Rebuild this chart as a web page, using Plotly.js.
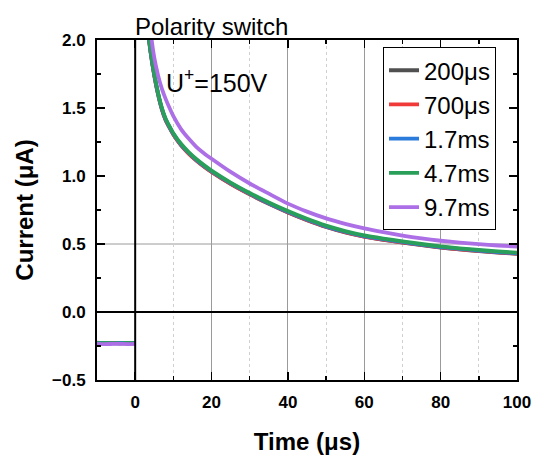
<!DOCTYPE html>
<html>
<head>
<meta charset="utf-8">
<script src="https://cdn.plot.ly/plotly-3.0.1.min.js"></script>
<style>html,body{margin:0;padding:0;background:#fff;}#chart{width:540px;height:462px;}</style>
</head>
<body>
<div id="chart"></div>
<script>
// Time axis (µs)
const preTime = [-10, -8, -6, -4, -2, 0];
const postTime = [2.2, 3, 4, 5, 6, 7, 8, 9, 10, 12, 14, 16, 18, 20, 25, 30, 35, 40, 45, 50, 55, 60, 65, 70, 75, 80, 85, 90, 95, 100];

// Series names
const seriesNames = ["200\u03bcs", "700\u03bcs", "1.7ms", "4.7ms", "9.7ms"];

// Current before switch (µA)
const pre200us = [-0.228, -0.230, -0.227, -0.231, -0.229, -0.230];
const pre700us = [-0.226, -0.229, -0.228, -0.227, -0.230, -0.228];
const pre1_7ms = [-0.227, -0.228, -0.230, -0.228, -0.227, -0.229];
const pre4_7ms = [-0.229, -0.227, -0.229, -0.230, -0.228, -0.229];
const pre9_7ms = [-0.234, -0.236, -0.235, -0.234, -0.236, -0.235];

// Current after switch (µA)
const post200us = [2.49,2.17,1.92,1.74,1.60,1.49,1.41,1.355,1.305,1.227,1.166,1.115,1.07,1.03,0.942,0.865,0.795,0.732,0.675,0.625,0.585,0.554,0.531,0.511,0.492,0.474,0.46,0.448,0.437,0.428];
const post700us = [2.48,2.16,1.92,1.74,1.60,1.49,1.41,1.355,1.305,1.226,1.165,1.114,1.07,1.03,0.943,0.867,0.797,0.734,0.677,0.627,0.587,0.555,0.532,0.512,0.493,0.475,0.461,0.449,0.438,0.429];
const post1_7ms = [2.49,2.17,1.92,1.745,1.605,1.495,1.415,1.36,1.31,1.232,1.171,1.12,1.075,1.035,0.947,0.87,0.80,0.737,0.68,0.63,0.59,0.558,0.535,0.515,0.496,0.478,0.464,0.452,0.441,0.432];
const post4_7ms = [2.50,2.18,1.93,1.75,1.61,1.50,1.42,1.365,1.315,1.237,1.176,1.125,1.08,1.04,0.952,0.875,0.805,0.742,0.685,0.635,0.595,0.563,0.54,0.52,0.50,0.482,0.468,0.456,0.445,0.436];
const post9_7ms = [2.80,2.45,2.08,1.87,1.74,1.64,1.565,1.50,1.44,1.345,1.275,1.215,1.168,1.127,1.03,0.945,0.87,0.797,0.738,0.688,0.648,0.615,0.587,0.562,0.541,0.524,0.51,0.499,0.489,0.481];

const colors = ["#505050", "#f03a3a", "#2b7bdc", "#2a9f5a", "#ac6fe6"];
const preData = [pre200us, pre700us, pre1_7ms, pre4_7ms, pre9_7ms];
const postData = [post200us, post700us, post1_7ms, post4_7ms, post9_7ms];

const xs = preTime.concat([null], postTime);
const traces = seriesNames.map((name, i) => ({
  type: "scatter",
  mode: "lines",
  name: name,
  x: xs,
  y: preData[i].concat([null], postData[i]),
  line: {color: colors[i], width: 3.8, shape: "spline", smoothing: 0.6},
  connectgaps: false
}));

const font = "Liberation Sans, Arial, sans-serif";

const layout = {
  width: 540,
  height: 462,
  margin: {l: 97, r: 23, t: 40, b: 82},
  paper_bgcolor: "#fff",
  plot_bgcolor: "#fff",
  showlegend: true,
  legend: {
    x: 0.681, y: 0.979, xanchor: "left", yanchor: "top",
    bgcolor: "#fff", bordercolor: "#000", borderwidth: 1,
    font: {family: font, size: 24, color: "#000"},
    tracegroupgap: 0
  },
  xaxis: {
    range: [-10, 100],
    tick0: 0, dtick: 20,
    ticks: "inside", ticklen: 8, tickwidth: 1.5, tickcolor: "#000",
    showline: true, linecolor: "#000", linewidth: 2, mirror: "ticks",
    showgrid: true, gridcolor: "#9a9a9a", gridwidth: 1,
    zeroline: false,
    minor: {dtick: 10, ticks: "inside", ticklen: 4, tickcolor: "#000", showgrid: true, gridcolor: "#d0d0d0", griddash: "dot", gridwidth: 1},
    tickfont: {family: font, size: 17, color: "#000", weight: "bold"},
    ticklabelstandoff: 6,
    title: {text: "Time (\u03bcs)", font: {family: font, size: 24, color: "#000", weight: "bold"}, standoff: 22}
  },
  yaxis: {
    range: [-0.5, 2.0],
    tick0: 0, dtick: 0.5, tickformat: ".1f",
    ticks: "inside", ticklen: 8, tickwidth: 1.5, tickcolor: "#000",
    showline: true, linecolor: "#000", linewidth: 2, mirror: "ticks",
    showgrid: false, zeroline: false,
    minor: {dtick: 0.25, ticks: "inside", ticklen: 4, tickcolor: "#000"},
    tickfont: {family: font, size: 17, color: "#000", weight: "bold"},
    ticklabelstandoff: 6,
    title: {text: "Current (\u03bcA)", font: {family: font, size: 24, color: "#000", weight: "bold"}, standoff: 12}
  },
  shapes: [
    {type: "line", xref: "paper", yref: "y", x0: 0, x1: 1, y0: 0.5, y1: 0.5, line: {color: "#9a9a9a", width: 1}, layer: "below"},
    {type: "line", xref: "paper", yref: "y", x0: 0, x1: 1, y0: 0, y1: 0, line: {color: "#000", width: 2}, layer: "above"},
    {type: "line", xref: "x", yref: "paper", x0: 0, x1: 0, y0: 0, y1: 1, line: {color: "#000", width: 2}, layer: "above"}
  ],
  annotations: [
    {text: "Polarity switch", xref: "x", yref: "paper", x: 0, y: 1, xanchor: "left", yanchor: "bottom", showarrow: false, font: {family: font, size: 24, color: "#000"}, xshift: -2, yshift: -2},
    {text: "U<sup>+</sup>=150V", xref: "x", yref: "y", x: 7.6, y: 1.70, xanchor: "left", yanchor: "middle", showarrow: false, font: {family: font, size: 25, color: "#000"}}
  ]
};

Plotly.newPlot("chart", traces, layout, {displayModeBar: false, staticPlot: true});
</script>
</body>
</html>
